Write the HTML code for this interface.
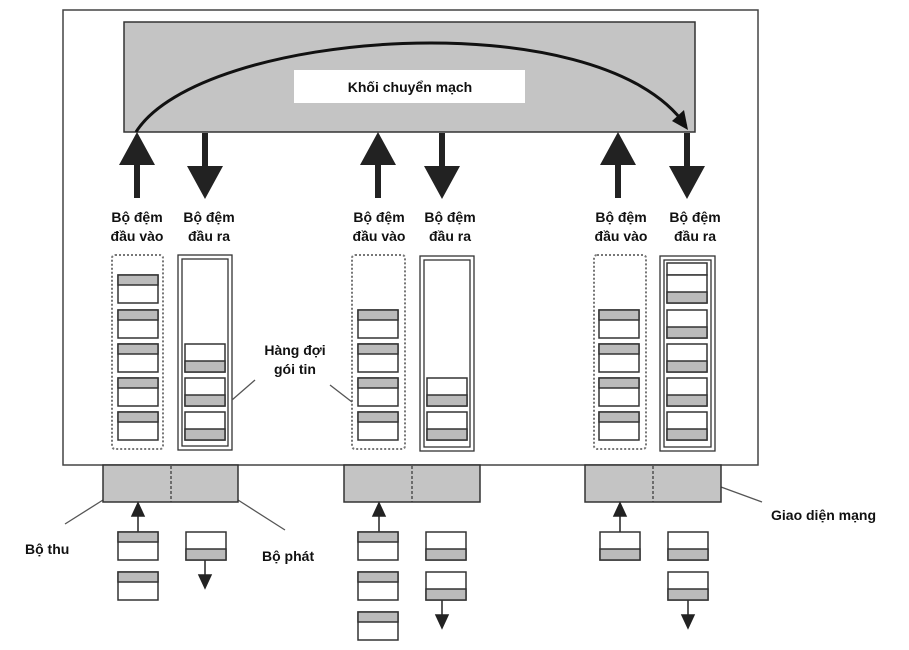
<!DOCTYPE html>
<html><head><meta charset="utf-8"><style>
body{margin:0;background:#fff}
text{font-family:"Liberation Sans",sans-serif;font-weight:bold;font-size:14px;fill:#111}
</style></head><body>
<svg width="909" height="645" viewBox="0 0 909 645" xmlns="http://www.w3.org/2000/svg">
<defs>
<g id="bg"><rect x="0" y="0" width="40" height="28" fill="#fff" stroke="#333" stroke-width="1.5"/><rect x="0" y="0" width="40" height="10" fill="#bbb" stroke="#333" stroke-width="1.5"/></g>
<g id="bw"><rect x="0" y="0" width="40" height="28" fill="#fff" stroke="#333" stroke-width="1.5"/><rect x="0" y="17" width="40" height="11" fill="#bbb" stroke="#333" stroke-width="1.5"/></g>
</defs>
<rect x="63" y="10" width="695" height="455" fill="#fff" stroke="#444" stroke-width="1.5"/>
<rect x="124" y="22" width="571" height="110" fill="#c4c4c4" stroke="#333" stroke-width="1.5"/>
<rect x="294" y="70" width="231" height="33" fill="#fff"/>
<text x="410" y="92" text-anchor="middle">Khối chuyển mạch</text>
<path d="M136,132 C200,30 600,0 686,126" fill="none" stroke="#111" stroke-width="3"/>
<path d="M688,130 L672,121 L684,110 z" fill="#111"/>

<g fill="#222">
<path d="M134,198 h6 v-33 h15 l-18,-33 l-18,33 h15z"/>
<path d="M202,133 h6 v33 h15 l-18,33 l-18,-33 h15z"/>
<path d="M375,198 h6 v-33 h15 l-18,-33 l-18,33 h15z"/>
<path d="M439,133 h6 v33 h15 l-18,33 l-18,-33 h15z"/>
<path d="M615,198 h6 v-33 h15 l-18,-33 l-18,33 h15z"/>
<path d="M684,133 h6 v33 h15 l-18,33 l-18,-33 h15z"/>
</g>
<g text-anchor="middle">
<text x="137" y="222">Bộ đệm</text><text x="137" y="241">đầu vào</text>
<text x="209" y="222">Bộ đệm</text><text x="209" y="241">đầu ra</text>
<text x="379" y="222">Bộ đệm</text><text x="379" y="241">đầu vào</text>
<text x="450" y="222">Bộ đệm</text><text x="450" y="241">đầu ra</text>
<text x="621" y="222">Bộ đệm</text><text x="621" y="241">đầu vào</text>
<text x="695" y="222">Bộ đệm</text><text x="695" y="241">đầu ra</text>
<text x="295" y="355">Hàng đợi</text><text x="295" y="374">gói tin</text>
</g>

<g fill="none" stroke="#777" stroke-width="2" stroke-dasharray="2,2">
<rect x="112" y="255" width="51" height="194" rx="3"/>
<rect x="352" y="255" width="53" height="194" rx="3"/>
<rect x="594" y="255" width="52" height="194" rx="3"/>
</g>
<g fill="#fff" stroke="#333" stroke-width="1.3">
<rect x="178" y="255" width="54" height="195"/><rect x="182" y="259" width="46" height="187"/>
<rect x="420" y="256" width="54" height="195"/><rect x="424" y="260" width="46" height="187"/>
<rect x="660" y="256" width="55" height="195"/><rect x="664" y="260" width="47" height="187"/>
</g>

<use href="#bg" x="118" y="275"/><use href="#bg" x="118" y="310"/><use href="#bg" x="118" y="344"/><use href="#bg" x="118" y="378"/><use href="#bg" x="118" y="412"/>
<use href="#bw" x="185" y="344"/><use href="#bw" x="185" y="378"/><use href="#bw" x="185" y="412"/>
<use href="#bg" x="358" y="310"/><use href="#bg" x="358" y="344"/><use href="#bg" x="358" y="378"/><use href="#bg" x="358" y="412"/>
<use href="#bw" x="427" y="378"/><use href="#bw" x="427" y="412"/>
<use href="#bg" x="599" y="310"/><use href="#bg" x="599" y="344"/><use href="#bg" x="599" y="378"/><use href="#bg" x="599" y="412"/>
<rect x="667" y="263" width="40" height="12" fill="#fff" stroke="#333" stroke-width="1.5"/>
<use href="#bw" x="667" y="275"/><use href="#bw" x="667" y="310"/><use href="#bw" x="667" y="344"/><use href="#bw" x="667" y="378"/><use href="#bw" x="667" y="412"/>

<g stroke="#555" stroke-width="1.3">
<line x1="255" y1="380" x2="232" y2="400"/>
<line x1="330" y1="385" x2="352" y2="402"/>
<line x1="65" y1="524" x2="103" y2="500"/>
<line x1="238" y1="500" x2="285" y2="530"/>
<line x1="721" y1="487" x2="762" y2="502"/>
</g>

<g fill="#c4c4c4" stroke="#333" stroke-width="1.5">
<rect x="103" y="465" width="135" height="37"/>
<rect x="344" y="465" width="136" height="37"/>
<rect x="585" y="465" width="136" height="37"/>
</g>
<g stroke="#333" stroke-width="1.2" stroke-dasharray="3,2">
<line x1="171" y1="466" x2="171" y2="502"/><line x1="412" y1="466" x2="412" y2="502"/><line x1="653" y1="466" x2="653" y2="502"/>
</g>

<g fill="#222" stroke="#222" stroke-width="1.5">
<line x1="138" y1="532" x2="138" y2="512"/><path d="M132,516 L138,503 L144,516z"/>
<line x1="379" y1="532" x2="379" y2="512"/><path d="M373,516 L379,503 L385,516z"/>
<line x1="620" y1="532" x2="620" y2="512"/><path d="M614,516 L620,503 L626,516z"/>
<line x1="205" y1="560" x2="205" y2="575"/><path d="M199,575 L205,588 L211,575z"/>
<line x1="442" y1="600" x2="442" y2="615"/><path d="M436,615 L442,628 L448,615z"/>
<line x1="688" y1="600" x2="688" y2="615"/><path d="M682,615 L688,628 L694,615z"/>
</g>
<use href="#bg" x="118" y="532"/><use href="#bg" x="118" y="572"/>
<use href="#bw" x="186" y="532"/>
<use href="#bg" x="358" y="532"/><use href="#bg" x="358" y="572"/><use href="#bg" x="358" y="612"/>
<use href="#bw" x="426" y="532"/><use href="#bw" x="426" y="572"/>
<use href="#bw" x="600" y="532"/>
<use href="#bw" x="668" y="532"/><use href="#bw" x="668" y="572"/>

<text x="25" y="554">Bộ thu</text>
<text x="262" y="561">Bộ phát</text>
<text x="771" y="520">Giao diện mạng</text>
</svg>
</body></html>
